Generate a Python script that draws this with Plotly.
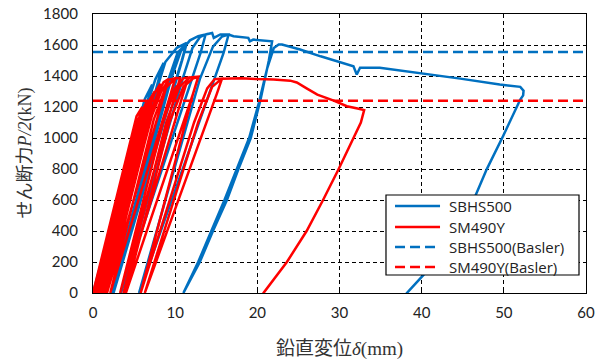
import plotly.graph_objects as go

# ---- data ----
sbhs_x = [0, 6.3, 7.2,
          6.7, 0.5,
          6.8, 7.6, 8.6,
          8.0, 1.2,
          7.8, 8.8, 10.2, 11.4,
          10.8, 2.2,
          9.2, 10.3, 11.4,
          10.9, 2.5,
          9.5, 10.7, 11.8, 12.8, 13.7,
          13.1, 3.4,
          10.9, 12.1, 13.0, 13.7, 14.5, 14.7, 15.5, 16.5,
          15.9, 5.6,
          13.0, 14.6, 15.7, 16.5, 17.1, 18.9, 19.1, 19.5, 21.8,
          21.4, 20.4, 19.2, 17.7, 16.3, 14.6, 13.0, 11.0,
          12.8, 14.4, 16.0, 17.5, 19.0, 20.2, 21.2, 22.0, 22.6, 23.0, 25.2, 27.7, 29.7,
          31.7, 32.1, 32.5, 34.9, 39.8, 44.7, 49.5, 52.0, 52.4, 52.35, 52.0,
          51.0, 49.9, 47.9, 46.0, 44.0, 42.0, 40.2, 38.2, 37.6]
sbhs_y = [0, 1250, 1345,
          1250, 0,
          1250, 1380, 1485,
          1380, 0,
          1320, 1490, 1582, 1614,
          1500, 0,
          1380, 1550, 1610,
          1510, 0,
          1380, 1560, 1630, 1657, 1668,
          1550, 0,
          1380, 1580, 1650, 1668, 1678, 1646, 1668, 1668,
          1550, 0,
          1380, 1590, 1655, 1668, 1657, 1646, 1624, 1635, 1624,
          1500, 1250, 1000, 800, 600, 400, 200, 0,
          200, 400, 600, 800, 1000, 1230, 1450, 1580, 1603, 1603, 1571, 1527, 1495,
          1463, 1410, 1453, 1453, 1420, 1383, 1345, 1330, 1305, 1275, 1248,
          1130, 1011, 796, 560, 380, 230, 115, 0, -50]

sm_x = [0, 5.3, 6.0,
        5.4, 0.3,
        5.5, 6.5,
        5.9, 0.5,
        5.7, 6.8, 7.0,
        6.4, 0.8,
        6.0, 7.0, 7.5,
        6.9, 1.1,
        6.3, 7.5, 8.2,
        7.6, 1.4,
        6.7, 7.9, 8.6, 9.2,
        8.6, 1.7,
        7.0, 8.3, 9.2, 10.0,
        9.4, 2.1,
        7.4, 8.8, 10.0, 10.6,
        10.0, 3.3,
        8.5, 10.0, 11.0, 11.6,
        11.0, 3.7,
        8.9, 10.5, 11.8, 12.8,
        12.2, 4.0,
        9.3, 11.0, 12.2, 12.8,
        12.2, 5.8,
        12.3, 13.9, 14.8, 15.7,
        15.1, 6.3,
        12.8, 14.5, 15.7, 18.0, 20.0, 22.0, 24.0, 24.8, 26.0,
        27.3, 29.3, 30.9, 32.2, 33.0,
        32.6, 31.7, 29.9, 28.0, 26.0, 23.6, 22.2, 20.75, 20.5]
sm_y = [0, 1140, 1200,
        1090, 0,
        1120, 1230,
        1130, 0,
        1120, 1240, 1255,
        1150, 0,
        1120, 1255, 1300,
        1190, 0,
        1120, 1290, 1350,
        1230, 0,
        1120, 1290, 1360, 1381,
        1270, 0,
        1120, 1300, 1375, 1385,
        1275, 0,
        1120, 1320, 1385, 1387,
        1280, 0,
        1100, 1320, 1385, 1390,
        1290, 0,
        1100, 1330, 1390, 1395,
        1290, 0,
        1100, 1330, 1385, 1392,
        1290, 0,
        1100, 1320, 1380, 1383,
        1290, 0,
        1100, 1330, 1383, 1385, 1380, 1378, 1370, 1358, 1320,
        1280, 1241, 1205, 1190, 1180,
        1100, 1000, 800, 600, 400, 200, 100, 0, -30]

basler_sbhs = 1555
basler_sm = 1240
x_range = [0, 60]
y_range = [0, 1800]

series_names = ["SBHS500", "SM490Y", "SBHS500(Basler)", "SM490Y(Basler)"]

BLUE = "#0070C0"
RED = "#FF0000"
colors = [BLUE, RED, BLUE, RED]
dashes = ["solid", "solid", "10px,5px", "10px,5px"]

fig = go.Figure()
fig.add_trace(go.Scatter(x=sbhs_x, y=sbhs_y, mode="lines", name=series_names[0],
                         line=dict(color=BLUE, width=2.5), showlegend=False))
fig.add_trace(go.Scatter(x=sm_x, y=sm_y, mode="lines", name=series_names[1],
                         line=dict(color=RED, width=2.5), showlegend=False))
fig.add_trace(go.Scatter(x=x_range, y=[basler_sbhs, basler_sbhs], mode="lines",
                         name=series_names[2], showlegend=False,
                         line=dict(color=BLUE, width=2.5, dash=dashes[2])))
fig.add_trace(go.Scatter(x=x_range, y=[basler_sm, basler_sm], mode="lines",
                         name=series_names[3], showlegend=False,
                         line=dict(color=RED, width=2.5, dash=dashes[3])))

tickfont = dict(family="Lato, Open Sans, sans-serif", size=15, color="#222")
axis_common = dict(showline=True, linecolor="black", linewidth=1.2, mirror=True,
                   showgrid=True, gridcolor="black", gridwidth=1, griddash="4px,3px",
                   zeroline=False, ticks="inside", ticklen=4, tickcolor="black",
                   tickfont=tickfont, automargin=False)

fig.update_layout(
    width=601, height=359,
    margin=dict(l=93, r=15, t=14, b=66, autoexpand=False),
    paper_bgcolor="white", plot_bgcolor="white",
    showlegend=False,
    xaxis=dict(range=x_range, dtick=10, ticklabelstandoff=6, **axis_common),
    yaxis=dict(range=y_range, dtick=200, ticklabelstandoff=11, **axis_common),
)

# ---- legend box (drawn in paper coordinates) ----
fig.add_shape(type="rect", xref="paper", yref="paper",
              x0=0.5943, x1=0.9858, y0=0.0645, y1=0.3513,
              fillcolor="white", line=dict(color="black", width=1.2), layer="above")
row_y = [0.3118, 0.2366, 0.1649, 0.0932]
for name, c, d, yy in zip(series_names, colors, dashes, row_y):
    fig.add_shape(type="line", xref="paper", yref="paper",
                  x0=0.6126, x1=0.7039, y0=yy, y1=yy,
                  line=dict(color=c, width=2.5, dash=d), layer="above")
    fig.add_annotation(xref="paper", yref="paper", x=0.7181, y=yy,
                       xanchor="left", yanchor="middle", showarrow=False,
                       text=name,
                       font=dict(family="Open Sans, sans-serif", size=15, color="#222"))

jp = "Noto Sans CJK JP"
serif = "Liberation Serif"
fig.add_annotation(
    xref="paper", yref="paper", x=0.5, y=0, yshift=-53, yanchor="middle",
    xanchor="center", showarrow=False,
    text=(f"<span style='font-family:{jp}'>鉛直変位</span>"
          f"<span style='font-family:{serif}'><i>δ</i>(mm)</span>"),
    font=dict(family=jp, size=19, color="#333"))
fig.add_annotation(
    xref="paper", yref="paper", x=0, y=0.5, xshift=-71, xanchor="center",
    yanchor="middle", showarrow=False, textangle=-90,
    text=(f"<span style='font-family:{jp}'>せん断力</span>"
          f"<span style='font-family:{serif}'><i>P/2</i>(kN)</span>"),
    font=dict(family=jp, size=18, color="#333"))

fig.write_html("out.html", config={"displayModeBar": False},
               post_script="document.body.style.margin='0';document.body.style.overflow='hidden';")
